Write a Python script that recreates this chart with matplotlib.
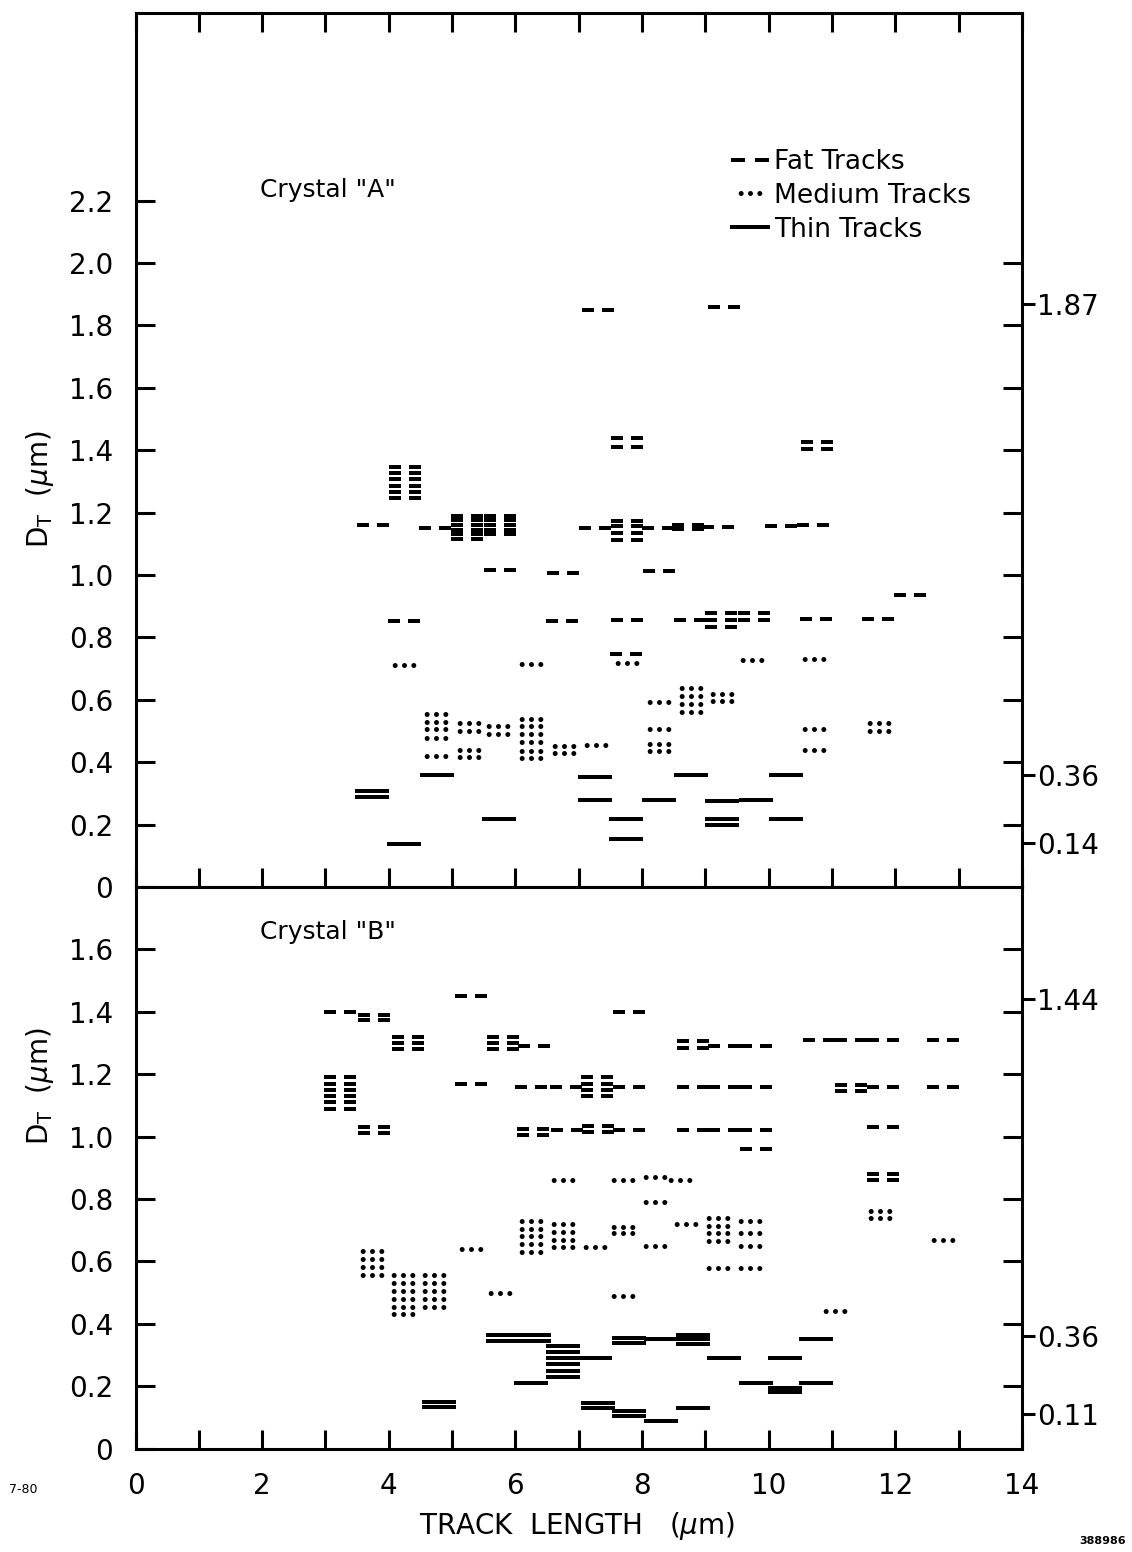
import numpy as np
import matplotlib.pyplot as plt
from matplotlib.path import Path
from matplotlib.lines import Line2D

plt.rcParams['font.family'] = 'DejaVu Sans'

# ---------------- Crystal "A" ----------------
a_fat_x = [7.30, 9.30, 7.76, 7.76, 10.77, 10.77,
           4.26, 4.26, 4.26, 4.26, 4.26, 4.26, 3.75, 4.73,
           5.23, 5.23, 5.23, 5.23, 5.23, 5.23,
           5.75, 5.75, 5.75, 5.75, 5.75,
           5.75, 6.75, 8.27,
           4.24, 6.73, 7.77, 8.75, 9.25, 9.25, 9.25, 9.77, 9.77,
           10.75, 11.73, 12.23,
           7.26, 7.77, 7.77, 7.77, 7.77, 8.25, 8.72, 8.72, 9.20, 10.20, 10.70,
           7.75]
a_fat_y = [1.85, 1.86, 1.44, 1.41, 1.425, 1.405,
           1.347, 1.328, 1.309, 1.286, 1.267, 1.248, 1.16, 1.15,
           1.19, 1.175, 1.16, 1.145, 1.13, 1.115,
           1.19, 1.175, 1.16, 1.145, 1.13,
           1.015, 1.006, 1.014,
           0.853, 0.852, 0.855, 0.855, 0.879, 0.856, 0.833, 0.879, 0.856,
           0.86, 0.858, 0.937,
           1.152, 1.173, 1.157, 1.134, 1.112, 1.152, 1.16, 1.147, 1.155, 1.158, 1.16,
           0.746]

a_med_x = [4.24, 6.25, 7.77, 9.73, 10.72,
           4.75, 4.75, 4.75, 4.75, 4.75,
           5.27, 5.27, 5.27, 5.27, 5.73, 5.73,
           6.24, 6.24, 6.24, 6.24, 6.24, 6.24,
           6.76, 6.76, 7.28,
           8.27, 8.27, 8.27, 8.27,
           8.77, 8.77, 8.77, 8.77, 9.27, 9.27,
           10.72, 10.72, 11.74, 11.74]
a_med_y = [0.712, 0.715, 0.718, 0.727, 0.73,
           0.555, 0.528, 0.506, 0.477, 0.42,
           0.524, 0.499, 0.44, 0.415, 0.516, 0.49,
           0.539, 0.517, 0.491, 0.466, 0.437, 0.414,
           0.451, 0.428, 0.456,
           0.594, 0.505, 0.457, 0.435,
           0.637, 0.612, 0.586, 0.56, 0.62, 0.596,
           0.505, 0.44, 0.525, 0.50]

a_thin_x = [3.74, 3.74, 4.24, 4.76, 5.74,
            7.26, 7.25, 7.75, 7.75,
            8.26, 8.77, 9.27, 9.80, 9.26, 9.26,
            10.28, 10.27]
a_thin_y = [0.307, 0.288, 0.139, 0.358, 0.217,
            0.354, 0.28, 0.218, 0.154,
            0.28, 0.359, 0.277, 0.279, 0.219, 0.20,
            0.36, 0.219]

a_right_vals = [1.87, 0.80, 0.36, 0.14]
a_right_labels = ['1.87', '0.80', '0.36', '0.14']

# ---------------- Crystal "B" ----------------
b_fat_x = [3.23, 3.76, 3.76, 4.30, 4.30, 4.30,
           3.23, 3.23, 3.23, 3.23, 3.23, 3.23, 3.76, 3.76,
           5.30, 5.30, 5.80, 5.80, 5.80, 6.30,
           6.25, 6.80, 7.29, 7.29, 7.29, 7.29, 7.80, 7.80,
           6.27, 6.27, 6.82, 7.30, 7.30, 7.80,
           8.80, 9.30, 9.80, 9.80,
           8.80, 8.80, 9.30, 9.80,
           10.80, 11.30, 11.80, 12.75,
           8.80, 9.30, 9.80, 11.30, 11.30, 11.80, 12.75,
           11.80, 11.80, 11.80]
b_fat_y = [1.40, 1.39, 1.375, 1.32, 1.30, 1.28,
           1.19, 1.17, 1.15, 1.13, 1.11, 1.09, 1.03, 1.01,
           1.45, 1.17, 1.32, 1.30, 1.28, 1.29,
           1.16, 1.16, 1.19, 1.17, 1.15, 1.13, 1.16, 1.40,
           1.025, 1.005, 1.02, 1.035, 1.015, 1.02,
           1.02, 1.02, 1.02, 0.96,
           1.305, 1.285, 1.29, 1.29,
           1.31, 1.31, 1.31, 1.31,
           1.16, 1.16, 1.16, 1.165, 1.145, 1.16, 1.16,
           1.03, 0.88, 0.86]

b_med_x = [3.73, 3.73, 3.73, 3.73,
           4.22, 4.22, 4.22, 4.22, 4.22, 4.22,
           4.71, 4.71, 4.71, 4.71, 4.71,
           5.30, 5.75,
           6.25, 6.25, 6.25, 6.25, 6.25,
           6.75, 6.75, 6.75, 6.75, 6.75, 7.25,
           7.70, 8.20, 8.60, 8.20,
           7.70, 7.70, 8.20, 7.70, 8.70,
           9.20, 9.20, 9.20, 9.20, 9.70, 9.70, 9.70,
           9.20, 9.70,
           11.05, 11.75, 11.75, 12.75]
b_med_y = [0.633, 0.608, 0.582, 0.556,
           0.555, 0.53, 0.505, 0.48, 0.455, 0.43,
           0.555, 0.53, 0.505, 0.48, 0.455,
           0.64, 0.50,
           0.73, 0.705, 0.68, 0.655, 0.63,
           0.86, 0.72, 0.695, 0.67, 0.645, 0.645,
           0.86, 0.87, 0.86, 0.79,
           0.71, 0.69, 0.65, 0.49, 0.72,
           0.74, 0.715, 0.69, 0.665, 0.73, 0.69, 0.65,
           0.58, 0.58,
           0.44, 0.76, 0.74, 0.67]

b_thin_x = [4.80, 4.80,
            5.80, 5.80, 6.30, 6.30,
            6.75, 6.75, 6.75, 6.75, 6.75, 6.75,
            6.25, 7.25,
            7.30, 7.30, 7.80, 7.80, 8.30, 8.80,
            7.80, 7.80, 8.30, 8.80, 8.80, 8.80,
            9.30, 9.80, 10.25, 10.25, 10.75,
            10.25, 10.75]
b_thin_y = [0.15, 0.135,
            0.365, 0.345, 0.365, 0.345,
            0.33, 0.31, 0.29, 0.27, 0.25, 0.23,
            0.21, 0.29,
            0.145, 0.13, 0.12, 0.105, 0.09, 0.13,
            0.355, 0.34, 0.35, 0.365, 0.35, 0.335,
            0.29, 0.21, 0.195, 0.18, 0.21,
            0.29, 0.35]

b_right_vals = [1.44, 0.80, 0.36, 0.11]
b_right_labels = ['1.44', '0.80', '0.36', '0.11']


# glyph shapes: "- -" fat, "..." medium, "—" thin
def bar(x0, x1, h):
    return Path([(x0, -h), (x1, -h), (x1, h), (x0, h), (x0, -h)],
                [Path.MOVETO, Path.LINETO, Path.LINETO, Path.LINETO, Path.CLOSEPOLY])

fat_mark = Path.make_compound_path(bar(-1, -0.26, 0.1), bar(0.26, 1, 0.1))
thin_mark = bar(-1, 1, 0.095)
med_mark = Path.make_compound_path(*[Path.circle((c, 0), 0.21) for c in (-0.79, 0, 0.79)])

FAT_MS, MED_MS, THIN_MS = 23, 17, 24.5
LW = 2.2
TL = 14


def draw_tracks(ax, fx, fy, mx, my, tx, ty):
    ax.plot(fx, fy, ls='none', marker=fat_mark, ms=FAT_MS, mfc='k', mew=0)
    ax.plot(mx, my, ls='none', marker=med_mark, ms=MED_MS, mfc='k', mew=0)
    ax.plot(tx, ty, ls='none', marker=thin_mark, ms=THIN_MS, mfc='k', mew=0)


def style_axes(ax, ytop, ylab_max, rvals, rlabels, right_max):
    ax.set_xlim(0, 14)
    ax.set_ylim(0, ytop)
    for s in ax.spines.values():
        s.set_linewidth(LW)
    yt = np.round(np.arange(0, ylab_max + 0.01, 0.2), 1)
    ax.set_yticks(yt, ['0'] + ['%.1f' % v for v in yt[1:]])
    ax.tick_params(axis='y', direction='in', length=TL, width=LW, labelsize=20, pad=16)
    tw = ax.twinx()
    tw.set_ylim(0, ytop)
    tw.set_yticks(np.round(np.arange(0.2, right_max + 0.01, 0.2), 1), [])
    tw.set_yticks(rvals, rlabels, minor=True)
    tw.tick_params(axis='y', which='major', direction='in', length=TL, width=LW)
    tw.tick_params(axis='y', which='minor', direction='out', length=9, width=LW,
                   labelsize=20, pad=2)
    for s in tw.spines.values():
        s.set_visible(False)
    return tw


fig = plt.figure(figsize=(11.32, 15.52), dpi=100)
axA = fig.add_axes([0.1197, 0.4285, 0.7831, 0.5629])
axB = fig.add_axes([0.1197, 0.0666, 0.7831, 0.3619])

draw_tracks(axA, a_fat_x, a_fat_y, a_med_x, a_med_y, a_thin_x, a_thin_y)
draw_tracks(axB, b_fat_x, b_fat_y, b_med_x, b_med_y, b_thin_x, b_thin_y)

style_axes(axA, 2.8, 2.2, a_right_vals, a_right_labels, 2.0)
style_axes(axB, 1.8, 1.6, b_right_vals, b_right_labels, 1.6)

axA.set_xticks(range(0, 15), [])
axA.tick_params(axis='x', top=True, bottom=True, direction='in', length=TL, width=LW)

axB.set_xticks(range(0, 15, 2), [str(v) for v in range(0, 15, 2)])
axB.set_xticks(range(1, 14, 2), minor=True)
axB.tick_params(axis='x', which='both', top=False, direction='in', length=TL, width=LW,
                labelsize=20, pad=17)

axA.text(1.97, 2.235, 'Crystal "A"', fontsize=18, va='center')
axB.text(1.97, 1.655, 'Crystal "B"', fontsize=18, va='center')

handles = [Line2D([], [], ls='none', marker=fat_mark, ms=FAT_MS + 4, color='k', mew=0),
           Line2D([], [], ls='none', marker=med_mark, ms=MED_MS, color='k', mew=0),
           Line2D([], [], ls='none', marker=thin_mark, ms=THIN_MS + 4, color='k', mew=0)]
axA.legend(handles, ['Fat Tracks', 'Medium Tracks', 'Thin Tracks'], loc='upper left',
           bbox_to_anchor=(0.671, 0.845), frameon=False, fontsize=19, handlelength=1.5,
           handletextpad=0.15, labelspacing=0.3, borderpad=0, borderaxespad=0)

fig.text(0.035, 0.685, r'D$_{\rm T}$  ($\mu$m)', rotation=90, fontsize=20, ha='center', va='center')
fig.text(0.035, 0.30, r'D$_{\rm T}$  ($\mu$m)', rotation=90, fontsize=20, ha='center', va='center')
fig.text(0.51, 0.017, r'TRACK  LENGTH   ($\mu$m)', fontsize=20, ha='center', va='center')
fig.text(0.008, 0.040, '7-80', fontsize=9, ha='left', va='center')
fig.text(0.995, 0.007, '388986', fontsize=8, fontweight='bold', ha='right', va='center')

fig.savefig('out.png', dpi=100)
